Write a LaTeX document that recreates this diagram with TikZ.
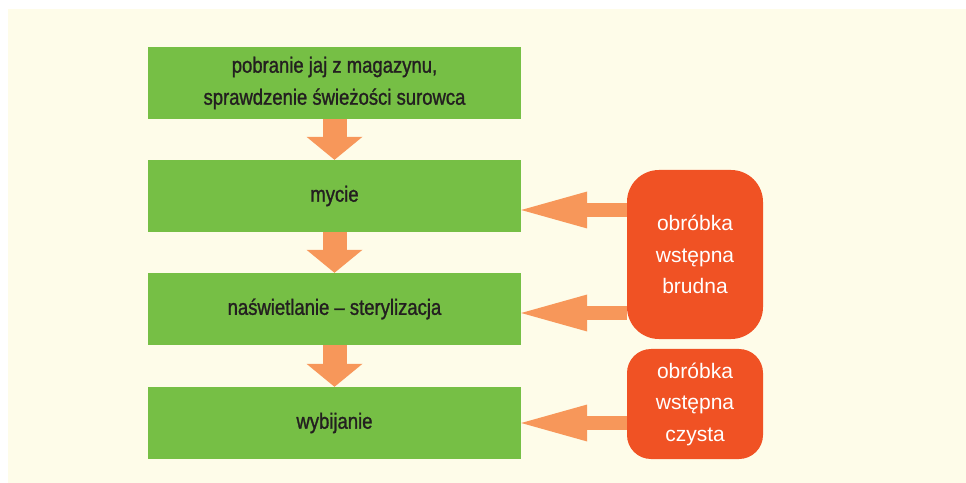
\documentclass[tikz,border=0pt]{standalone}
\usepackage{fontspec}
\setmainfont{Liberation Sans}
\newfontfamily\condfont[FakeStretch=0.84,FakeBold=1.2]{Liberation Sans}
\usetikzlibrary{arrows.meta}
\definecolor{bgcream}{HTML}{FEFCE9}
\definecolor{stepgreen}{HTML}{76BF45}
\definecolor{arroworange}{HTML}{F7975A}
\definecolor{boxred}{HTML}{F05224}
\definecolor{txtdark}{HTML}{231F20}
\begin{document}
\begin{tikzpicture}[x=1bp,y=-1bp,
  stepbox/.style={fill=stepgreen, minimum width=373bp, minimum height=72bp, inner sep=0pt,
    text=txtdark, align=center, font=\condfont\fontsize{22bp}{32bp}\selectfont},
  sidebox/.style={fill=boxred, rounded corners=32bp, minimum width=136bp, inner sep=0pt,
    text=white, align=center, font=\fontsize{21bp}{31.5bp}\selectfont},
  downarrow/.style={color=arroworange, line width=24bp,
    -{Triangle[length=23bp,width=56bp,line width=0pt]}},
  leftarrow/.style={color=arroworange, line width=14bp,
    -{Triangle[length=66bp,width=37bp,line width=0pt]}}
]
\useasboundingbox (0,0) rectangle (966,483);
\fill[white] (0,0) rectangle (966,483);
\fill[bgcream] (8,9) rectangle (966,483);

\node[stepbox] (s1) at (334.5,83) {pobranie jaj z magazynu,\\sprawdzenie świeżości surowca};
\node[stepbox] (s2) at (334.5,196) {mycie};
\node[stepbox] (s3) at (334.5,309) {naświetlanie – sterylizacja};
\node[stepbox] (s4) at (334.5,423) {wybijanie};

\node[sidebox, minimum height=169bp] (b1) at (695,254.5) {obróbka\\wstępna\\brudna};
\node[sidebox, minimum height=110bp, rounded corners=24bp] (b2) at (695,404) {obróbka\\wstępna\\czysta};

\draw[downarrow] (s1.south) -- (s2.north);
\draw[downarrow] (s2.south) -- (s3.north);
\draw[downarrow] (s3.south) -- (s4.north);

\draw[leftarrow] (b1.west |- 0,210) -- (s2.east |- 0,210);
\draw[leftarrow] (b1.west |- 0,313) -- (s3.east |- 0,313);
\draw[leftarrow] (b2.west |- 0,423) -- (s4.east |- 0,423);
\end{tikzpicture}
\end{document}
